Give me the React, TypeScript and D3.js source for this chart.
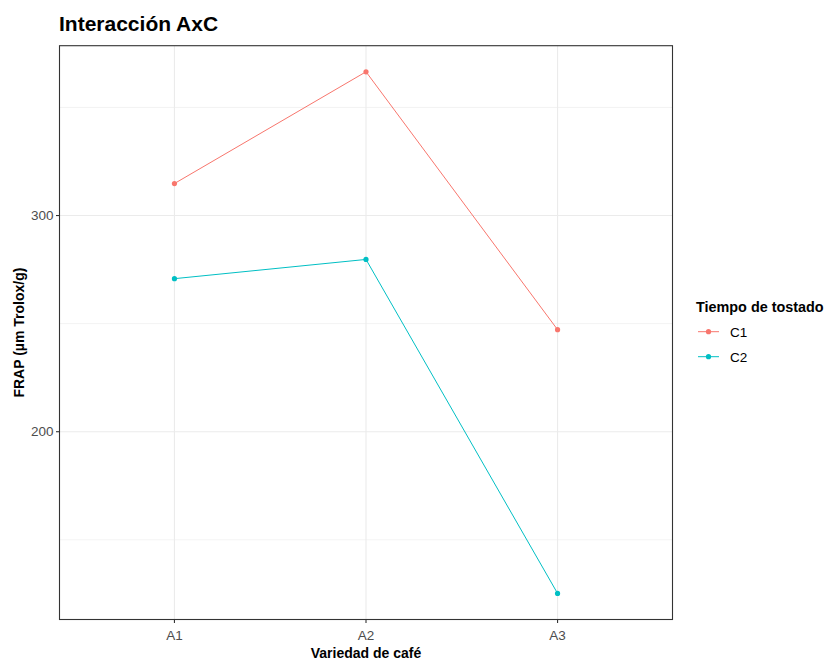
import React from "react";
import * as d3 from "d3";

const categories = ["A1", "A2", "A3"];
const seriesNames = ["C1", "C2"];
const c1Values = [314.8, 366.5, 247.2];
const c2Values = [270.8, 279.7, 125.2];
const yTicks = [200, 300];
const yMinor = [150, 250, 350];
const colors = ["#F8766D", "#00BFC4"];

const W = 826, H = 660;
const P = { left: 59.5, right: 672.5, top: 45.7, bottom: 619.5 };
const FONT = "'Liberation Sans', Arial, sans-serif";

export default function App() {
  const all = [...c1Values, ...c2Values];
  const lo = d3.min(all)!, hi = d3.max(all)!;
  const pad = (hi - lo) * 0.05;
  const y = d3.scaleLinear().domain([lo - pad, hi + pad]).range([P.bottom, P.top]);
  const step = (P.right - P.left) / (categories.length - 1 + 1.2);
  const x = d3.scalePoint<string>().domain(categories).range([P.left + 0.6 * step, P.right - 0.6 * step]);
  const series = [c1Values, c2Values];
  const line = d3.line<number>().x((_, i) => x(categories[i])!).y((v) => y(v));
  const midY = (P.top + P.bottom) / 2;
  const midX = (P.left + P.right) / 2;

  return (
    <svg width={W} height={H} style={{ position: "absolute", left: 0, top: 0, background: "#fff" }} fontFamily={FONT}>
      <rect x={0} y={0} width={W} height={H} fill="#fff" />
      <text x={59} y={31} fontSize={21} fontWeight="bold" fill="#000">Interacción AxC</text>
      {yMinor.map((t) => (
        <line key={"mn" + t} x1={P.left} x2={P.right} y1={y(t)} y2={y(t)} stroke="#EBEBEB" strokeWidth={0.6} />
      ))}
      {yTicks.map((t) => (
        <line key={"mj" + t} x1={P.left} x2={P.right} y1={y(t)} y2={y(t)} stroke="#EBEBEB" strokeWidth={1.1} />
      ))}
      {categories.map((c) => (
        <line key={"vx" + c} x1={x(c)} x2={x(c)} y1={P.top} y2={P.bottom} stroke="#EBEBEB" strokeWidth={1.1} />
      ))}
      {series.map((s, k) => (
        <g key={"s" + k}>
          <path d={line(s)!} fill="none" stroke={colors[k]} strokeWidth={1} />
          {s.map((v, i) => (
            <circle key={i} cx={x(categories[i])} cy={y(v)} r={2.6} fill={colors[k]} />
          ))}
        </g>
      ))}
      <rect x={P.left} y={P.top} width={P.right - P.left} height={P.bottom - P.top} fill="none" stroke="#333" strokeWidth={1.1} />
      {yTicks.map((t) => (
        <g key={"yt" + t}>
          <line x1={P.left - 3.5} x2={P.left} y1={y(t)} y2={y(t)} stroke="#333" strokeWidth={1.1} />
          <text x={P.left - 6} y={y(t)} dy="0.35em" textAnchor="end" fontSize={13.5} fill="#4D4D4D">{t}</text>
        </g>
      ))}
      {categories.map((c) => (
        <g key={"xt" + c}>
          <line x1={x(c)} x2={x(c)} y1={P.bottom} y2={P.bottom + 3.5} stroke="#333" strokeWidth={1.1} />
          <text x={x(c)} y={P.bottom + 20} textAnchor="middle" fontSize={13.5} fill="#4D4D4D">{c}</text>
        </g>
      ))}
      <text x={midX} y={658} textAnchor="middle" fontSize={14} fontWeight="bold" fill="#000">Variedad de café</text>
      <text transform={`translate(24,${midY}) rotate(-90)`} textAnchor="middle" fontSize={14} fontWeight="bold" fill="#000">FRAP (µm Trolox/g)</text>
      <text x={696} y={312} fontSize={14.4} fontWeight="bold" fill="#000">Tiempo de tostado</text>
      {seriesNames.map((n, k) => {
        const ly = 331.7 + k * 25;
        return (
          <g key={"lg" + n}>
            <line x1={698} x2={719} y1={ly} y2={ly} stroke={colors[k]} strokeWidth={1} />
            <circle cx={708.5} cy={ly} r={2.6} fill={colors[k]} />
            <text x={730} y={ly} dy="0.36em" fontSize={13.5} fill="#000">{n}</text>
          </g>
        );
      })}
    </svg>
  );
}
